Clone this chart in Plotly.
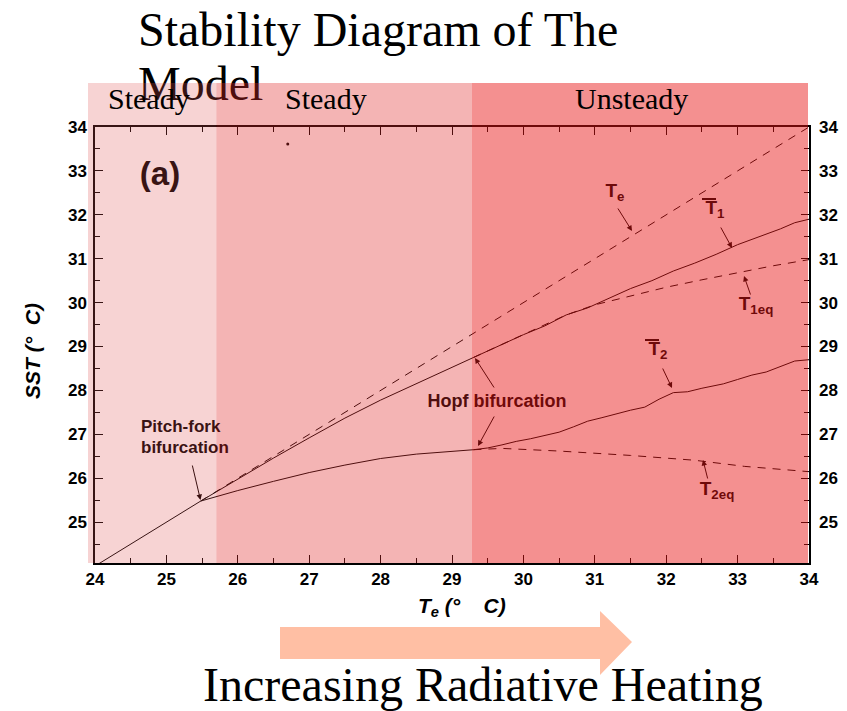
import plotly.graph_objects as go

# ---- axis ranges -------------------------------------------------------
te_min, te_max = 24.0, 34.0
sst_min, sst_max = 24.07, 34.0
tick_vals = [24, 25, 26, 27, 28, 29, 30, 31, 32, 33, 34]

# ---- regime boundaries (T_e, deg C) -----------------------------------
pitchfork_te = 25.7
hopf_te = 29.28
regime_names = ["Steady", "Steady", "Unsteady"]

# ---- single stable branch below the pitch-fork bifurcation ------------
base_te = [24.0, 25.48]
base_sst = [24.0, 25.48]

# ---- radiative-equilibrium line T_e -----------------------------------
te_line_x = [25.48, 34.0]
te_line_y = [25.48, 34.0]

# ---- warm branch (steady) up to the Hopf bifurcation -------------------
warm_te = [25.48, 26.0, 26.5, 27.0, 27.5, 28.0, 28.5, 29.0, 29.3]
warm_sst = [25.48, 25.98, 26.46, 26.92, 27.37, 27.78, 28.15, 28.52, 28.75]

# ---- cold branch (steady) up to the Hopf bifurcation -------------------
cold_te = [25.48, 26.0, 26.5, 27.0, 27.5, 28.0, 28.5, 29.0, 29.3]
cold_sst = [25.48, 25.72, 25.93, 26.13, 26.30, 26.45, 26.55, 26.62, 26.65]

# ---- time-mean warm temperature T1 (oscillating regime) ---------------
t1_te = [29.3, 29.6, 30.0, 30.3, 30.6, 30.9, 31.2, 31.5, 31.8, 32.1,
         32.4, 32.7, 33.0, 33.3, 33.6, 33.8, 34.0]
t1_sst = [28.75, 28.97, 29.27, 29.47, 29.72, 29.88, 30.10, 30.32, 30.50,
          30.72, 30.90, 31.10, 31.32, 31.50, 31.68, 31.82, 31.90]

# ---- unstable warm equilibrium T1eq ------------------------------------
t1eq_te = [29.3, 30.0, 30.6, 31.0, 31.5, 32.0, 32.5, 33.0, 33.5, 34.0]
t1eq_sst = [28.75, 29.28, 29.72, 29.95, 30.15, 30.35, 30.52, 30.68, 30.84, 30.98]

# ---- time-mean cold temperature T2 (oscillating regime) ---------------
t2_te = [29.3, 29.5, 29.7, 29.9, 30.1, 30.3, 30.5, 30.7, 30.9, 31.1, 31.3,
         31.5, 31.7, 31.9, 32.1, 32.3, 32.5, 32.8, 33.0, 33.2, 33.4, 33.6,
         33.8, 34.0]
t2_sst = [26.65, 26.69, 26.76, 26.84, 26.90, 26.98, 27.05, 27.17, 27.30,
          27.38, 27.47, 27.55, 27.62, 27.80, 27.95, 27.97, 28.05, 28.15,
          28.25, 28.35, 28.42, 28.55, 28.67, 28.70]

# ---- unstable cold equilibrium T2eq ------------------------------------
t2eq_te = [29.3, 29.7, 30.5, 31.5, 32.4, 33.1, 34.0]
t2eq_sst = [26.65, 26.68, 26.62, 26.52, 26.41, 26.27, 26.15]

# ---- stray point --------------------------------------------------------
dot_te = [26.70]
dot_sst = [33.61]

# ---- page geometry (pixels) -------------------------------------------
W, H = 847, 711
PL, PR, PT, PB = 95, 809, 127, 563     # plot-area edges


def paper_x(xp):
    return xp / W


def paper_y(yp):
    return 1 - yp / H


def te_to_px(v):
    return PL + (v - te_min) / (te_max - te_min) * (PR - PL)


SANS = "Liberation Sans"
SERIF = "Liberation Serif"

fig = go.Figure()

solid = dict(color="black", width=1)
dashed = dict(color="black", width=1, dash="8px,7px")

for xs, ys, ln in [(base_te, base_sst, solid), (te_line_x, te_line_y, dashed),
                   (warm_te, warm_sst, solid), (cold_te, cold_sst, solid),
                   (t1_te, t1_sst, solid), (t1eq_te, t1eq_sst, dashed),
                   (t2_te, t2_sst, solid), (t2eq_te, t2eq_sst, dashed)]:
    fig.add_trace(go.Scatter(x=xs, y=ys, mode="lines", line=ln, hoverinfo="skip"))

fig.add_trace(go.Scatter(x=dot_te, y=dot_sst, mode="markers", yaxis="y2",
                         marker=dict(color="black", size=3)))


def add_text(xp, yp, text, size, family=SANS, weight="bold", pos="middle center"):
    # text on the full-page pixel layer, so the regime bands tint it
    fig.add_trace(go.Scatter(
        x=[xp], y=[yp], text=[text], mode="text", xaxis="x3", yaxis="y3",
        textposition=pos, cliponaxis=False, hoverinfo="skip",
        textfont=dict(family=family, size=size, color="black", weight=weight)))


# title
add_text(138, 34, "Stability Diagram of The", 48, SERIF, "normal", "middle right")
add_text(138, 88, "Model", 48, SERIF, "normal", "middle right")

# labels inside the plot
add_text(160, 177, "(a)", 33)
add_text(141, 428, "Pitch-fork", 17, pos="middle right")
add_text(141, 449, "bifurcation", 17, pos="middle right")
add_text(497, 402, "Hopf bifurcation", 18)
add_text(615, 192, "T<sub>e</sub>", 19)
add_text(715, 209, "T<sub>1</sub>", 19)
add_text(756, 305, "T<sub>1eq</sub>", 19)
add_text(658, 350, "T<sub>2</sub>", 19)
add_text(717, 490, "T<sub>2eq</sub>", 19)

shapes = []
# overbars on the time-mean symbols
for x0, x1, yb in [(702, 716, 199), (645, 659, 340)]:
    shapes.append(dict(type="line", xref="paper", yref="paper", layer="above",
                       x0=paper_x(x0), x1=paper_x(x1), y0=paper_y(yb), y1=paper_y(yb),
                       line=dict(color="black", width=2)))

# regime bands, translucent, laid over the drawing
band_px = [88, te_to_px(pitchfork_te), te_to_px(hopf_te), PR - 1]
band_fills = ["rgba(223,79,79,0.25)", "rgba(223,41,41,0.35)", "rgba(232,21,21,0.475)"]
for i, fill in enumerate(band_fills):
    shapes.append(dict(type="rect", xref="paper", yref="paper", layer="above",
                       x0=paper_x(band_px[i]), x1=paper_x(band_px[i + 1]),
                       y0=paper_y(PB), y1=paper_y(83), fillcolor=fill, line=dict(width=0)))

# heating arrow below the axis
ax0, axh, tipx = 280, 600, 632
by0, by1, hy0, hy1, tipy = 627, 659, 611, 675, 642
pts = [(ax0, by0), (axh, by0), (axh, hy0), (tipx, tipy), (axh, hy1), (axh, by1), (ax0, by1)]
path = "M " + " L ".join(f"{paper_x(a)},{paper_y(b)}" for a, b in pts) + " Z"
shapes.append(dict(type="path", xref="paper", yref="paper", layer="below", path=path,
                   fillcolor="#FFBFA4", line=dict(width=0)))

annotations = []
# regime names above the plot
for name, cx in zip(regime_names, [149, 326, 631]):
    annotations.append(dict(xref="paper", yref="paper", x=paper_x(cx), y=paper_y(99),
                            text=name, showarrow=False, xanchor="center", yanchor="middle",
                            font=dict(family=SERIF, size=30, color="black")))

annotations.append(dict(xref="paper", yref="paper", x=paper_x(483), y=paper_y(684),
                        text="Increasing Radiative Heating", showarrow=False,
                        xanchor="center", yanchor="middle",
                        font=dict(family=SERIF, size=48, color="black")))

# axis titles
title_font = dict(family=SANS, size=21, color="black", weight="bold", style="italic")
annotations.append(dict(xref="paper", yref="paper", x=paper_x(462), y=paper_y(607),
                        text="T<sub>e</sub> (°    C)", showarrow=False,
                        xanchor="center", yanchor="middle", font=title_font))
annotations.append(dict(xref="paper", yref="paper", x=paper_x(32), y=paper_y(351),
                        text="SST (°  C)", showarrow=False, textangle=-90,
                        xanchor="center", yanchor="middle", font=title_font))

# pointer arrows: (head, tail) in pixels
pointers = [
    ((200.5, 500), (192, 464), "#3a1010"),
    ((475, 358), (495, 389), "#6a0c0c"),
    ((478, 446), (495, 415), "#6a0c0c"),
    ((632, 231), (617, 207), "#6e0a0a"),
    ((732, 248), (720, 226), "#6e0a0a"),
    ((744, 276), (751, 296), "#6e0a0a"),
    ((672, 388), (662, 367), "#6e0a0a"),
    ((703, 460), (708, 480), "#6e0a0a"),
]
for (hx, hy), (tx, ty), col in pointers:
    annotations.append(dict(x=hx, y=hy, ax=tx, ay=ty,
                            xref="x3", yref="y3", axref="x3", ayref="y3", text="",
                            showarrow=True, arrowhead=2, arrowsize=1.1, arrowwidth=1,
                            arrowcolor=col))

tickfont = dict(family=SANS, size=17, color="black", weight="bold")
axis_common = dict(showgrid=False, zeroline=False, showline=True, linecolor="black",
                   linewidth=1.5, ticks="inside", ticklen=8, tickwidth=1.3,
                   tickcolor="black", tickfont=tickfont, automargin=False,
                   minor=dict(ticks="inside", ticklen=5, tickwidth=1.2,
                              tickcolor="black", dtick=0.5))

x_dom = [PL / W, PR / W]
y_dom = [1 - PB / H, 1 - PT / H]

fig.update_layout(
    width=W, height=H, autosize=False,
    margin=dict(l=0, r=0, t=0, b=0, pad=0, autoexpand=False),
    paper_bgcolor="white", plot_bgcolor="rgba(0,0,0,0)",
    showlegend=False,
    xaxis=dict(domain=x_dom, anchor="y", range=[te_min, te_max], tickvals=tick_vals,
               mirror="ticks", **axis_common),
    yaxis=dict(domain=y_dom, anchor="x", range=[sst_min, sst_max], tickvals=tick_vals[1:],
               mirror="ticks", ticklabelstandoff=3, **axis_common),
    yaxis2=dict(domain=y_dom, anchor="x", range=[sst_min, sst_max], tickvals=tick_vals[1:],
                overlaying="y", side="right", showgrid=False, zeroline=False,
                showline=False, ticks="", tickfont=tickfont, ticklabelstandoff=9,
                automargin=False),
    xaxis3=dict(domain=[0, 1], anchor="y3", range=[0, W], visible=False, fixedrange=True),
    yaxis3=dict(domain=[0, 1], anchor="x3", range=[H, 0], visible=False, fixedrange=True),
    shapes=shapes,
    annotations=annotations,
)

fig.write_html("out.html")
